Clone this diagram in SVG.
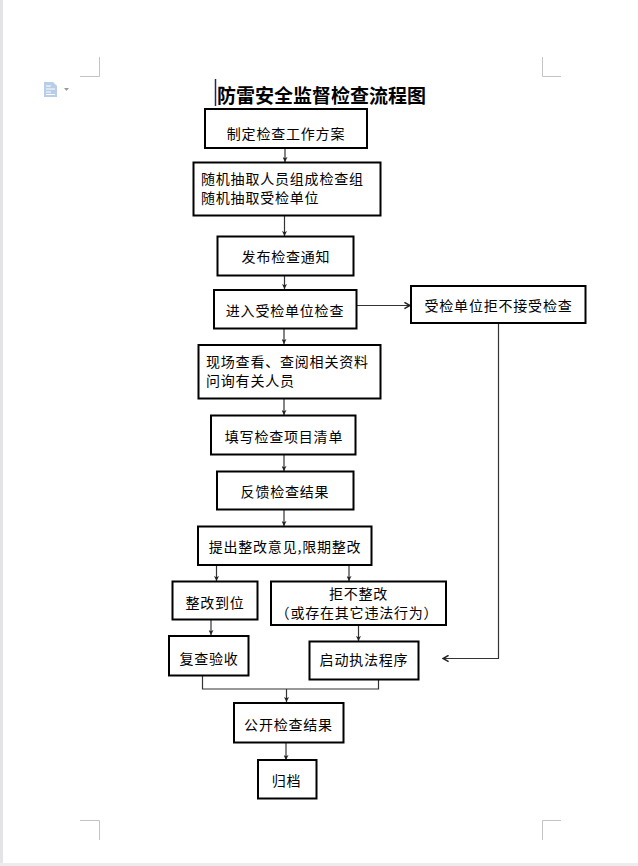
<svg xmlns="http://www.w3.org/2000/svg" width="638" height="866" viewBox="0 0 638 866">
<style>
.box{fill:#fff;stroke:#000;stroke-width:2}
.t{font-family:"Noto Sans CJK SC","Noto Sans",sans-serif;font-size:14px;letter-spacing:0.8px;fill:#000;dominant-baseline:central}
.c{text-anchor:middle}
.ln{fill:none;stroke:#333;stroke-width:1.2}
.crop{fill:none;stroke:#c4c4c4;stroke-width:1}
</style>
<defs>
<marker id="ah" viewBox="0 0 8 8" refX="8" refY="4" markerWidth="5" markerHeight="5" markerUnits="userSpaceOnUse" orient="auto">
<path d="M0,0 L8,4 L0,8 L2,4 Z" fill="#222"/>
</marker>
<marker id="av" viewBox="0 0 10 10" refX="9" refY="5" markerWidth="8" markerHeight="8" markerUnits="userSpaceOnUse" orient="auto">
<path d="M2,1 L9,5 L2,9" fill="none" stroke="#222" stroke-width="1.8"/>
</marker>
</defs>
<rect width="638" height="866" fill="#fff"/>
<rect x="0" y="0" width="3" height="866" fill="#e4e4e6"/>
<rect x="0" y="863" width="638" height="3" fill="#ececf0"/>
<g id="page-marks">
<path class="crop" d="M99.5,57 V76.5 H80"/>
<path class="crop" d="M542.5,57 V76.5 H561"/>
<path class="crop" d="M80,820.5 H99.5 V840"/>
<path class="crop" d="M561,820.5 H542.5 V840"/>
<g id="doc-icon">
<path d="M44,82 H53 L57,86 V97 H44 Z" fill="#b8cde8"/>
<path d="M46,86 H51 M46,89 H55 M46,92 H51 M46,94.5 H55" stroke="#fff" stroke-width="1"/>
<path d="M64,88 H69 L66.5,91 Z" fill="#9a9a9a"/>
</g>
</g>
<g id="title">
<line x1="215.5" y1="79" x2="215.5" y2="106" stroke="#1a2a60" stroke-width="1.5"/>
<text x="217" y="94" style="font-family:'Noto Sans CJK SC','Noto Sans',sans-serif;font-size:19px;font-weight:bold;dominant-baseline:central">防雷安全监督检查流程图</text>
</g>
<g id="connectors">
<line class="ln" x1="285" y1="148" x2="285" y2="162" marker-end="url(#ah)"/>
<line class="ln" x1="284.5" y1="216" x2="284.5" y2="236" marker-end="url(#ah)"/>
<line class="ln" x1="284.5" y1="276" x2="284.5" y2="289" marker-end="url(#ah)"/>
<line class="ln" x1="357" y1="305.5" x2="410" y2="305.5" marker-end="url(#av)"/>
<line class="ln" x1="284" y1="329" x2="284" y2="344" marker-end="url(#ah)"/>
<line class="ln" x1="284" y1="399" x2="284" y2="415" marker-end="url(#ah)"/>
<line class="ln" x1="284" y1="455" x2="284" y2="471" marker-end="url(#ah)"/>
<line class="ln" x1="284" y1="510" x2="284" y2="526" marker-end="url(#ah)"/>
<line class="ln" x1="216.5" y1="566" x2="216.5" y2="581" marker-end="url(#ah)"/>
<line class="ln" x1="349" y1="566" x2="349" y2="581" marker-end="url(#ah)"/>
<line class="ln" x1="211" y1="620" x2="211" y2="635" marker-end="url(#ah)"/>
<line class="ln" x1="358.5" y1="626" x2="358.5" y2="641" marker-end="url(#ah)"/>
<polyline class="ln" points="498.5,324 498.5,658.5 443,658.5" marker-end="url(#av)"/>
<polyline class="ln" points="202.5,676 202.5,689 378.5,689 378.5,680"/>
<line class="ln" x1="286.5" y1="689" x2="286.5" y2="702" marker-end="url(#ah)"/>
<line class="ln" x1="286" y1="743" x2="286" y2="760" marker-end="url(#ah)"/>
</g>
<g id="n1"><rect class="box" x="205" y="109" width="162" height="39"/><text class="t c" x="286" y="133">制定检查工作方案</text></g>
<g id="n2"><rect class="box" x="193.5" y="162.5" width="187" height="53"/><text class="t" x="201" y="177.5">随机抽取人员组成检查组</text><text class="t" x="201" y="196.5">随机抽取受检单位</text></g>
<g id="n3"><rect class="box" x="217.5" y="236.5" width="136" height="39"/><text class="t c" x="286" y="256">发布检查通知</text></g>
<g id="n4"><rect class="box" x="214" y="290" width="142.5" height="38.5"/><text class="t c" x="285" y="310">进入受检单位检查</text></g>
<g id="n5"><rect class="box" x="411" y="286" width="174.5" height="37"/><text class="t c" x="498.5" y="305">受检单位拒不接受检查</text></g>
<g id="n6"><rect class="box" x="198.5" y="345" width="182" height="53.5"/><text class="t" x="206" y="361">现场查看、查阅相关资料</text><text class="t" x="206" y="380">问询有关人员</text></g>
<g id="n7"><rect class="box" x="211" y="415.5" width="144.5" height="39"/><text class="t c" x="284" y="435.5">填写检查项目清单</text></g>
<g id="n8"><rect class="box" x="217" y="471.5" width="136.5" height="38"/><text class="t c" x="285" y="490.5">反馈检查结果</text></g>
<g id="n9"><rect class="box" x="198" y="526.5" width="173.5" height="38.5"/><text class="t c" x="285" y="545.5">提出整改意见,限期整改</text></g>
<g id="n10"><rect class="box" x="172.5" y="581.5" width="85" height="38"/><text class="t c" x="215" y="602">整改到位</text></g>
<g id="n11"><rect class="box" x="271" y="581.5" width="175" height="43.5"/><text class="t c" x="358.5" y="593">拒不整改</text><text class="t c" x="357" y="612">（或存在其它违法行为）</text></g>
<g id="n12"><rect class="box" x="169" y="636" width="79.5" height="39.5"/><text class="t c" x="209" y="657.5">复查验收</text></g>
<g id="n13"><rect class="box" x="309.5" y="641.5" width="109" height="38"/><text class="t c" x="364" y="659">启动执法程序</text></g>
<g id="n14"><rect class="box" x="234" y="703" width="109.5" height="39.5"/><text class="t c" x="288.5" y="724">公开检查结果</text></g>
<g id="n15"><rect class="box" x="258" y="760" width="58.5" height="38.5"/><text class="t c" x="286.5" y="780">归档</text></g>
</svg>
